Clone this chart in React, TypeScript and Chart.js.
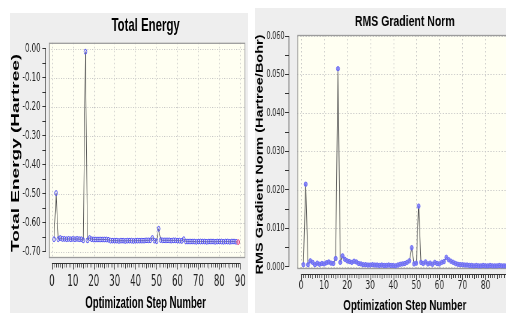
import React, { useEffect, useRef } from 'react';
import { Chart, registerables } from 'chart.js';
Chart.register(...registerables);

// ---------- data ----------
const steps: number[] = [
  1, 2, 3, 4, 5, 6, 7, 8, 9, 10, 11, 12, 13, 14, 15, 16, 17, 18, 19, 20,
  21, 22, 23, 24, 25, 26, 27, 28, 29, 30, 31, 32, 33, 34, 35, 36, 37, 38, 39, 40,
  41, 42, 43, 44, 45, 46, 47, 48, 49, 50, 51, 52, 53, 54, 55, 56, 57, 58, 59, 60,
  61, 62, 63, 64, 65, 66, 67, 68, 69, 70, 71, 72, 73, 74, 75, 76, 77, 78, 79, 80,
  81, 82, 83, 84, 85, 86, 87, 88, 89,
];

const totalEnergy: number[] = [
  -0.656, -0.497, -0.656, -0.652, -0.655, -0.655, -0.656, -0.655, -0.656, -0.655,
  -0.656, -0.655, -0.656, -0.656, -0.660, -0.010, -0.660, -0.652, -0.656, -0.657,
  -0.657, -0.657, -0.657, -0.657, -0.657, -0.657, -0.658, -0.661, -0.661, -0.661,
  -0.661, -0.662, -0.661, -0.661, -0.662, -0.661, -0.661, -0.661, -0.662, -0.661,
  -0.661, -0.661, -0.661, -0.661, -0.660, -0.660, -0.660, -0.652, -0.661, -0.663,
  -0.620, -0.659, -0.660, -0.660, -0.660, -0.660, -0.661, -0.660, -0.660, -0.661,
  -0.661, -0.662, -0.656, -0.664, -0.664, -0.664, -0.664, -0.664, -0.665, -0.664,
  -0.664, -0.664, -0.664, -0.665, -0.664, -0.664, -0.664, -0.665, -0.664, -0.664,
  -0.664, -0.665, -0.664, -0.664, -0.665, -0.664, -0.664, -0.665, -0.666,
];

const rmsGradient: number[] = [
  0.0006, 0.0215, 0.0006, 0.0016, 0.0012, 0.0006, 0.0010, 0.0007, 0.0009, 0.0008,
  0.0011, 0.0013, 0.0010, 0.0009, 0.0022, 0.0515, 0.0012, 0.0029, 0.0020, 0.0016,
  0.0014, 0.0012, 0.0015, 0.0013, 0.0009, 0.0008, 0.0006, 0.0006, 0.0005, 0.0005,
  0.0006, 0.0005, 0.0005, 0.0004, 0.0005, 0.0004, 0.0004, 0.0005, 0.0004, 0.0004,
  0.0003, 0.0005, 0.0007, 0.0008, 0.0009, 0.0012, 0.0016, 0.0050, 0.0008, 0.0010,
  0.0158, 0.0012, 0.0009, 0.0013, 0.0008, 0.0010, 0.0007, 0.0012, 0.0009, 0.0008,
  0.0012, 0.0014, 0.0025, 0.0019, 0.0015, 0.0012, 0.0009, 0.0007, 0.0006, 0.0006,
  0.0005, 0.0005, 0.0004, 0.0004, 0.0003, 0.0004, 0.0003, 0.0003, 0.0004, 0.0003,
  0.0003, 0.0004, 0.0003, 0.0003, 0.0003, 0.0004, 0.0003, 0.0003, 0.0003,
];

const energyYTicks: number[] = [0.0, -0.1, -0.2, -0.3, -0.4, -0.5, -0.6, -0.7];
const gradientYTicks: number[] = [0.0, 0.01, 0.02, 0.03, 0.04, 0.05, 0.06];
const stepXTicks: number[] = [0, 10, 20, 30, 40, 50, 60, 70, 80, 90];

const NARROW = '"Liberation Sans Narrow", "Arial Narrow", "DejaVu Sans Condensed", "Liberation Sans", sans-serif';
const BOLD = '"Liberation Sans", Arial, sans-serif';

// ---------- frame plugin ----------
const gvFrame = {
  id: 'gvFrame',
  beforeDatasetsDraw(chart: any) {
    const o = chart.options.plugins.gvFrame;
    const { ctx, chartArea: ca, scales } = chart;
    const x = scales.x, y = scales.y;
    const bx = ca.left + o.gapX;
    const by = ca.top;
    const br = ca.right;
    const bb = ca.bottom - o.gapY;
    ctx.save();
    ctx.fillStyle = '#fffff2';
    ctx.fillRect(bx, by, br - bx, bb - by);
    ctx.setLineDash([1.5, 2.5]);
    ctx.strokeStyle = '#c4c4c4';
    ctx.lineWidth = 1;
    for (const v of o.gridX) {
      const px = Math.round(x.getPixelForValue(v)) + 0.5;
      if (px <= bx + 1 || px >= br - 1) continue;
      ctx.beginPath(); ctx.moveTo(px, by); ctx.lineTo(px, bb); ctx.stroke();
    }
    for (const v of o.gridY) {
      const py = Math.round(y.getPixelForValue(v)) + 0.5;
      if (py <= by + 1 || py >= bb - 1) continue;
      ctx.beginPath(); ctx.moveTo(bx, py); ctx.lineTo(br, py); ctx.stroke();
    }
    ctx.setLineDash([]);
    ctx.strokeStyle = '#9c9c9c';
    ctx.lineWidth = 1.3;
    ctx.strokeRect(bx + 0.5, by + 0.5, br - bx - 1, bb - by - 1);
    ctx.restore();
  },
  afterDraw(chart: any) {
    const o = chart.options.plugins.gvFrame;
    const { ctx, chartArea: ca, scales } = chart;
    const x = scales.x, y = scales.y;
    ctx.save();
    ctx.strokeStyle = '#333';
    ctx.lineWidth = 1;
    // y axis line
    const yl = Math.round(ca.left) - 0.5;
    ctx.beginPath();
    ctx.moveTo(yl, y.getPixelForValue(o.yFrom));
    ctx.lineTo(yl, y.getPixelForValue(o.yTo));
    ctx.stroke();
    // x axis comb
    const xb = Math.round(ca.bottom) + 0.5;
    const x0 = x.getPixelForValue(0);
    const x1 = Math.min(x.getPixelForValue(o.xTo), chart.width);
    ctx.beginPath(); ctx.moveTo(x0, xb); ctx.lineTo(x1, xb); ctx.stroke();
    for (let v = 0; v <= o.xTo; v++) {
      const px = Math.round(x.getPixelForValue(v)) + 0.5;
      if (px > chart.width) break;
      const len = v % 10 === 0 ? o.comb + 2 : v % 5 === 0 ? o.comb + 1 : o.comb;
      ctx.beginPath(); ctx.moveTo(px, xb); ctx.lineTo(px, xb + len); ctx.stroke();
    }
    ctx.restore();
  },
};

type PanelProps = {
  left: number; top: number; pageW: number; pageH: number; scale: number;
  cw: number; ch: number; config: any;
};

function Panel({ left, top, pageW, pageH, scale, cw, ch, config }: PanelProps) {
  const ref = useRef<HTMLCanvasElement>(null);
  useEffect(() => {
    const chart = new Chart(ref.current as HTMLCanvasElement, config);
    return () => chart.destroy();
  }, []);
  return (
    <div style={{ position: 'absolute', left, top, width: pageW, height: pageH, background: '#eeeeee', overflow: 'hidden' }}>
      <canvas
        ref={ref}
        width={cw}
        height={ch}
        style={{ display: 'block', width: cw, height: ch, transform: `scaleX(${scale})`, transformOrigin: '0 0' }}
      />
    </div>
  );
}

function makeConfig(opts: any) {
  return {
    type: 'line',
    data: {
      datasets: [
        {
          data: opts.values.map((v: number, i: number) => ({ x: steps[i], y: v })),
          borderColor: '#4a4a4a',
          borderWidth: 1,
          pointRadius: opts.pointRadius,
          pointBorderWidth: 1,
          pointBorderColor: (c: any) => (opts.highlightLast && c.dataIndex === opts.values.length - 1 ? '#e0407a' : opts.pointBorder),
          pointBackgroundColor: (c: any) => (opts.highlightLast && c.dataIndex === opts.values.length - 1 ? 'rgba(255,150,200,0.6)' : opts.pointFill),
          pointStyle: 'circle',
          tension: 0,
          fill: false,
        },
      ],
    },
    plugins: [gvFrame],
    options: {
      responsive: false,
      maintainAspectRatio: false,
      devicePixelRatio: 1,
      animation: false,
      layout: { padding: 0 },
      plugins: {
        legend: { display: false },
        tooltip: { enabled: false },
        title: {
          display: true,
          text: opts.title,
          fullSize: false,
          color: '#000',
          font: { family: BOLD, size: opts.titleSize, weight: 'bold' },
          padding: opts.titlePadding,
        },
        gvFrame: opts.frame,
      },
      scales: {
        x: {
          type: 'linear',
          min: opts.xMin,
          max: opts.xMax,
          afterFit: (s: any) => { s.height = opts.xHeight; s.paddingLeft = 0; s.paddingRight = 0; },
          grid: { display: false, drawTicks: false },
          border: { display: false },
          ticks: {
            stepSize: 10,
            includeBounds: false,
            autoSkip: false,
            maxRotation: 0,
            padding: opts.xTickPad,
            color: '#222',
            font: { family: NARROW, size: opts.xTickSize },
            callback: (v: number) => {
              const r = Math.round(v);
              return stepXTicks.includes(r) && r <= opts.xLabelMax ? String(r) : '';
            },
          },
          title: {
            display: true,
            text: 'Optimization Step Number',
            color: '#000',
            font: { family: BOLD, size: opts.xTitleSize, weight: 'bold' },
            padding: { top: 0, bottom: opts.xTitlePadBottom },
          },
        },
        y: {
          type: 'linear',
          min: opts.yMin,
          max: opts.yMax,
          afterFit: (s: any) => { s.width = opts.yWidth; s.paddingTop = 0; s.paddingBottom = 0; },
          grid: { display: true, drawOnChartArea: false, drawTicks: true, tickLength: 6, tickColor: '#333', tickWidth: 1 },
          border: { display: false },
          ticks: {
            stepSize: opts.yStep,
            includeBounds: false,
            autoSkip: false,
            padding: opts.yTickPad,
            color: '#222',
            font: { family: NARROW, size: opts.yTickSize },
            callback: opts.yLabel,
          },
          title: {
            display: true,
            text: opts.yTitle,
            color: '#000',
            font: { family: BOLD, size: opts.yTitleSize, weight: 'bold', lineHeight: 1 },
            padding: { top: 0, bottom: 0 },
          },
        },
      },
    },
  };
}

const energyConfig = makeConfig({
  values: totalEnergy,
  title: 'Total Energy',
  titleSize: 19,
  titlePadding: { top: 1, bottom: 6 },
  xMin: -2.83, xMax: 92.37, xHeight: 50, xTickPad: 9, xTickSize: 16, xTitleSize: 16, xTitlePadBottom: 0, xLabelMax: 90,
  yMin: -0.738, yMax: 0.0207, yWidth: 60, yStep: 0.05, yTickPad: 3, yTickSize: 13,
  yLabel: (v: number) => {
    const k = Math.round(v * 100);
    return k % 10 === 0 ? (k / 100).toFixed(2) : '';
  },
  yTitle: 'Total Energy (Hartree)',
  yTitleSize: 19,
  pointRadius: 2.4,
  pointBorder: '#4b4bf0',
  pointFill: 'rgba(170,170,255,0.35)',
  highlightLast: true,
  frame: { gapX: 5, gapY: 5, gridX: stepXTicks, gridY: energyYTicks, yFrom: 0, yTo: -0.7, xTo: 90, comb: 4 },
});

const gradientConfig = makeConfig({
  values: rmsGradient,
  title: 'RMS Gradient Norm',
  titleSize: 15,
  titlePadding: { top: 5, bottom: 4 },
  xMin: -5.1, xMax: 95.1, xHeight: 39, xTickPad: 5, xTickSize: 12, xTitleSize: 14, xTitlePadBottom: -2, xLabelMax: 80,
  yMin: -0.00182, yMax: 0.06026, yWidth: 49, yStep: 0.005, yTickPad: 1, yTickSize: 10,
  yLabel: (v: number) => {
    const k = Math.round(v * 1000);
    return k % 10 === 0 ? (k / 1000).toFixed(3) : '';
  },
  yTitle: 'RMS Gradient Norm (Hartree/Bohr)',
  yTitleSize: 14.5,
  pointRadius: 2.2,
  pointBorder: '#6a6af5',
  pointFill: 'rgba(120,120,250,0.85)',
  highlightLast: false,
  frame: { gapX: 11.4, gapY: 5, gridX: stepXTicks, gridY: gradientYTicks, yFrom: 0.06, yTo: 0, xTo: 90, comb: 3.5 },
});

export default function App() {
  return (
    <div style={{ position: 'absolute', left: 0, top: 0, width: 506, height: 313, background: '#ffffff', overflow: 'hidden' }}>
      <Panel left={10} top={13} pageW={238} pageH={300} scale={0.6} cw={397} ch={300} config={energyConfig} />
      <Panel left={255} top={8} pageW={251} pageH={305} scale={0.7} cw={384} ch={305} config={gradientConfig} />
    </div>
  );
}
